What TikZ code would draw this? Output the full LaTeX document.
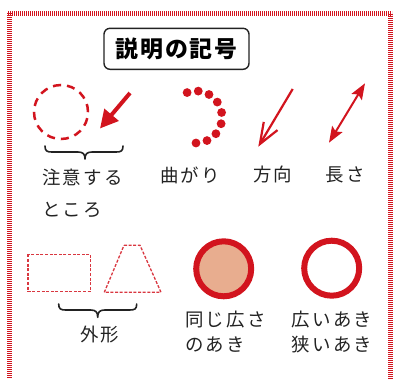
\documentclass[tikz,border=0pt]{standalone}
\usepackage{fontspec}
\newfontfamily\jp{Noto Sans CJK JP}[LetterSpace=12]
\newfontfamily\jpt{Noto Sans CJK JP}[LetterSpace=8]
\usetikzlibrary{arrows.meta}
\definecolor{rd}{HTML}{D2141E}
\definecolor{salmon}{HTML}{E8AD8F}
\definecolor{ink}{HTML}{222222}
\tikzset{
  lbl/.style={anchor=west, inner sep=0pt, text=ink, font=\jp\fontsize{18.5}{21}\selectfont},
  frameline/.style={rd, line width=5bp, dash pattern=on 1.3bp off 0.7bp},
  bracepath/.style={ink, line width=1.6bp, line cap=round, line join=round},
  outline/.style={rd!85, line width=1.3bp, dash pattern=on 3bp off 1.6bp},
  ring/.style={circle, draw=rd, line width=6bp, minimum size=55bp, inner sep=0pt},
}
\begin{document}
\begin{tikzpicture}[x=1bp,y=-1bp]
\useasboundingbox (0,0) rectangle (396,379);
% frame
\draw[frameline] (8,13) -- (392,13);
\draw[frameline] (9.8,13) -- (9.8,379);
\draw[frameline] (390.8,14) -- (390.8,379);
% title
\node[draw=ink, rounded corners=6bp, line width=1.4bp, minimum width=145bp, minimum height=41bp, inner sep=0pt,
      font=\jpt\bfseries\fontsize{23}{25}\selectfont] (title) at (176.5,48.8) {説明の記号};
% attention
\node[circle, draw=rd, line width=2.5bp, dash pattern=on 8.1bp off 6bp, minimum size=54bp, inner sep=0pt] (att) at (61,112) {};
\coordinate (a1) at (130,93);
\coordinate (a2) at (100,128.5);
\draw[rd, line width=4bp, -{Triangle[length=18bp,width=18bp]}] (a1) -- (a2);
\draw[bracepath] (45,146) .. controls (45,151) and (47,152) .. (52,152) -- (78,152)
  .. controls (83,152) and (85,154) .. (85,159) .. controls (85,154) and (87,152) .. (92,152)
  -- (116,152) .. controls (121,152) and (123,151) .. (123,146);
\node[lbl] (t1) at (42,177) {注意する};
\node[lbl] (t2) at (42,210) {ところ};
% bend
\foreach \a in {-110,-85,...,90} \fill[rd] (196,117) ++(\a:26) circle[radius=4.4bp];
\node[lbl] (t3) at (160,175) {曲がり};
% direction
\coordinate (d1) at (292.7,89);
\coordinate (d2) at (258.3,146.7);
\draw[rd, line width=2.2bp, -{Straight Barb[length=21bp,width=16bp]}] (d1) -- (d2);
\node[lbl] (t4) at (253,175) {方向};
% length
\coordinate (l1) at (329,142.7);
\coordinate (l2) at (365,83.3);
\draw[rd, line width=2bp, {Stealth[length=16bp,width=12bp,inset=3bp]}-{Stealth[length=16bp,width=12bp,inset=3bp]}] (l1) -- (l2);
\node[lbl] (t5) at (325.7,175) {長さ};
% outline shapes
\draw[outline] (28,254.3) rectangle (90.7,291.3);
\draw[outline] (124,245.3) -- (140,245.3) -- (161,292.3) -- (104.3,292.3) -- cycle;
\draw[bracepath] (58.7,304) .. controls (58.7,309) and (60.7,310) .. (65.7,310) -- (90.7,310)
  .. controls (95.7,310) and (97.7,312) .. (97.7,317.3) .. controls (97.7,312) and (99.7,310) .. (104.7,310)
  -- (129.7,310) .. controls (134.7,310) and (136.7,309) .. (136.7,304);
\node[lbl] (t6) at (80,335) {外形};
% rings
\node[ring, fill=salmon] (same) at (223.7,268.8) {};
\node[ring] (diff) at (331.7,268.2) {};
\node[lbl] (t7) at (185,320) {同じ広さ};
\node[lbl] (t8) at (185,345) {のあき};
\node[lbl] (t9) at (291.7,320) {広いあき};
\node[lbl] (t10) at (291.7,345) {狭いあき};
\end{tikzpicture}
\end{document}
